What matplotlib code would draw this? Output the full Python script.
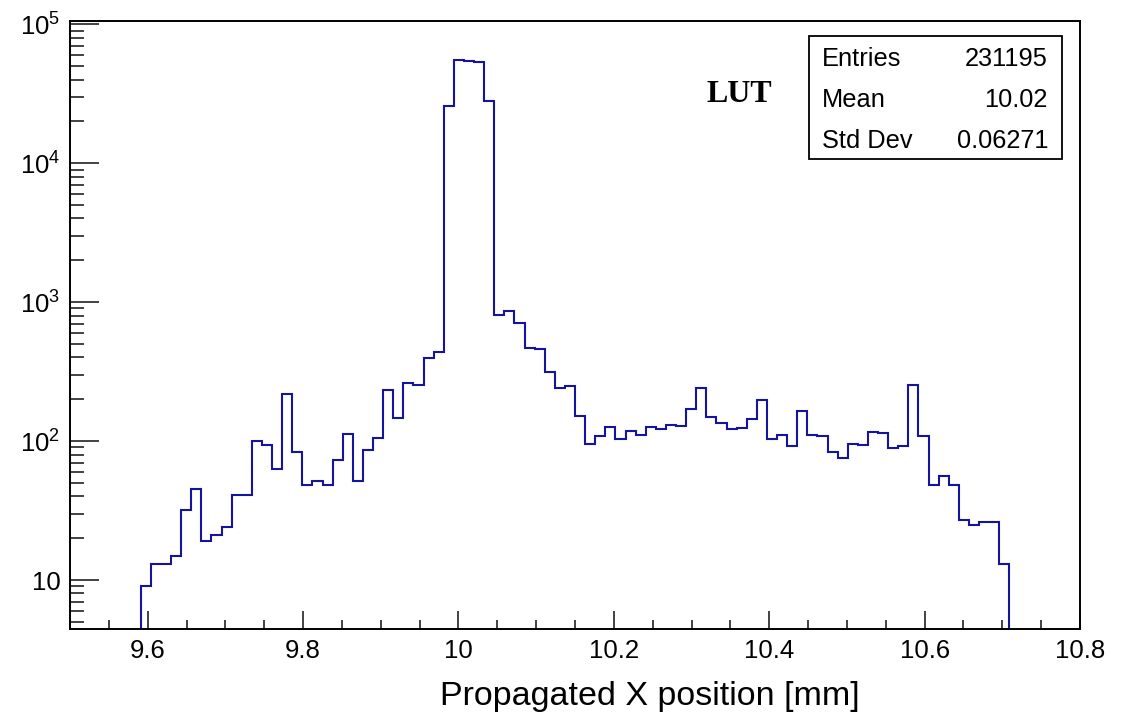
import numpy as np
import matplotlib
matplotlib.use("Agg")
import matplotlib.pyplot as plt
from matplotlib.ticker import MultipleLocator, FixedLocator, LogLocator, NullFormatter
from matplotlib.patches import Rectangle

plt.rcParams['font.family'] = ['Liberation Sans', 'DejaVu Sans']
plt.rcParams['mathtext.fontset'] = 'custom'
plt.rcParams['mathtext.rm'] = 'Liberation Sans'

# histogram: 100 bins on [9.5, 10.8], only bins 7..92 are filled
x_min, x_max, n_bins = 9.5, 10.8, 100
first_bin = 7
counts = [9, 13, 13, 15, 32, 45, 19, 21, 24, 41,
          41, 100, 94, 63, 219, 84, 48, 52, 48, 73,
          112, 52, 86, 106, 232, 146, 261, 253, 397, 434,
          25800, 55300, 54400, 53900, 27800, 806, 865, 703, 469, 457,
          315, 242, 249, 151, 96, 109, 127, 104, 119, 110,
          126, 123, 130, 129, 169, 239, 150, 134, 123, 125,
          145, 197, 104, 111, 92, 164, 111, 109, 84, 75,
          95, 94, 117, 115, 89, 92, 254, 109, 48, 56,
          48, 27, 25, 26, 26, 13]

stat_names = ['Entries', 'Mean', 'Std Dev']
stat_values = ['231195', '10.02', '0.06271']
x_ticks = [9.6, 9.8, 10.0, 10.2, 10.4, 10.6, 10.8]
x_tick_labels = ['9.6', '9.8', '10', '10.2', '10.4', '10.6', '10.8']
y_ticks = [10, 1e2, 1e3, 1e4, 1e5]
y_tick_labels = ['10', r'$\mathregular{10^{2}}$', r'$\mathregular{10^{3}}$',
                 r'$\mathregular{10^{4}}$', r'$\mathregular{10^{5}}$']

all_edges = np.linspace(x_min, x_max, n_bins + 1)
edges = all_edges[first_bin:first_bin + len(counts) + 1]

W, H = 1132, 719
fig = plt.figure(figsize=(W / 100, H / 100), dpi=100)
ax = fig.add_axes([70 / W, 1 - 629 / H, (1080 - 70) / W, (629 - 20.7) / H])

ax.stairs(counts, edges, baseline=1, color='#1414a0', linewidth=1.5)

ax.set_yscale('log')
ax.set_xlim(x_min, x_max)
ax.set_ylim(4.44, 1.06e5)

ax.xaxis.set_major_locator(FixedLocator(x_ticks))
ax.set_xticklabels(x_tick_labels)
ax.xaxis.set_minor_locator(MultipleLocator(0.05))
ax.yaxis.set_major_locator(FixedLocator(y_ticks))
ax.set_yticklabels(y_tick_labels)
ax.yaxis.set_minor_locator(LogLocator(base=10, subs=np.arange(2, 10)))
ax.yaxis.set_minor_formatter(NullFormatter())

ax.tick_params(axis='both', which='both', direction='in', top=False, right=False,
               width=1.2, labelsize=18.5, color='#222222')
ax.tick_params(axis='x', which='major', length=13, pad=7)
ax.tick_params(axis='x', which='minor', length=6.5)
ax.tick_params(axis='y', which='major', length=21, pad=7)
ax.tick_params(axis='y', which='minor', length=10)
for s in ax.spines.values():
    s.set_linewidth(1.4)

fig.text(650 / W, 1 - 697 / H, 'Propagated X position [mm]', fontsize=24.5,
         ha='center', va='center')

fig.text(739 / W, 1 - 95 / H, 'LUT', fontsize=23, fontweight='bold',
         family=['Liberation Serif', 'DejaVu Serif'], ha='center', va='center')

# stats box
bx0, bx1, by0, by1 = 809, 1062, 36, 159
fig.patches.append(Rectangle((bx0 / W, 1 - by1 / H), (bx1 - bx0) / W, (by1 - by0) / H,
                             transform=fig.transFigure, fill=True, facecolor='white',
                             edgecolor='black', linewidth=1.3, zorder=5))
row_y = [59, 100, 141]
for name, val, yy in zip(stat_names, stat_values, row_y):
    fig.text(822 / W, 1 - yy / H, name, fontsize=18.3, ha='left', va='center', zorder=6)
    fig.text(1048 / W, 1 - yy / H, val, fontsize=18.3, ha='right', va='center', zorder=6)

fig.savefig('out.png', dpi=100)
